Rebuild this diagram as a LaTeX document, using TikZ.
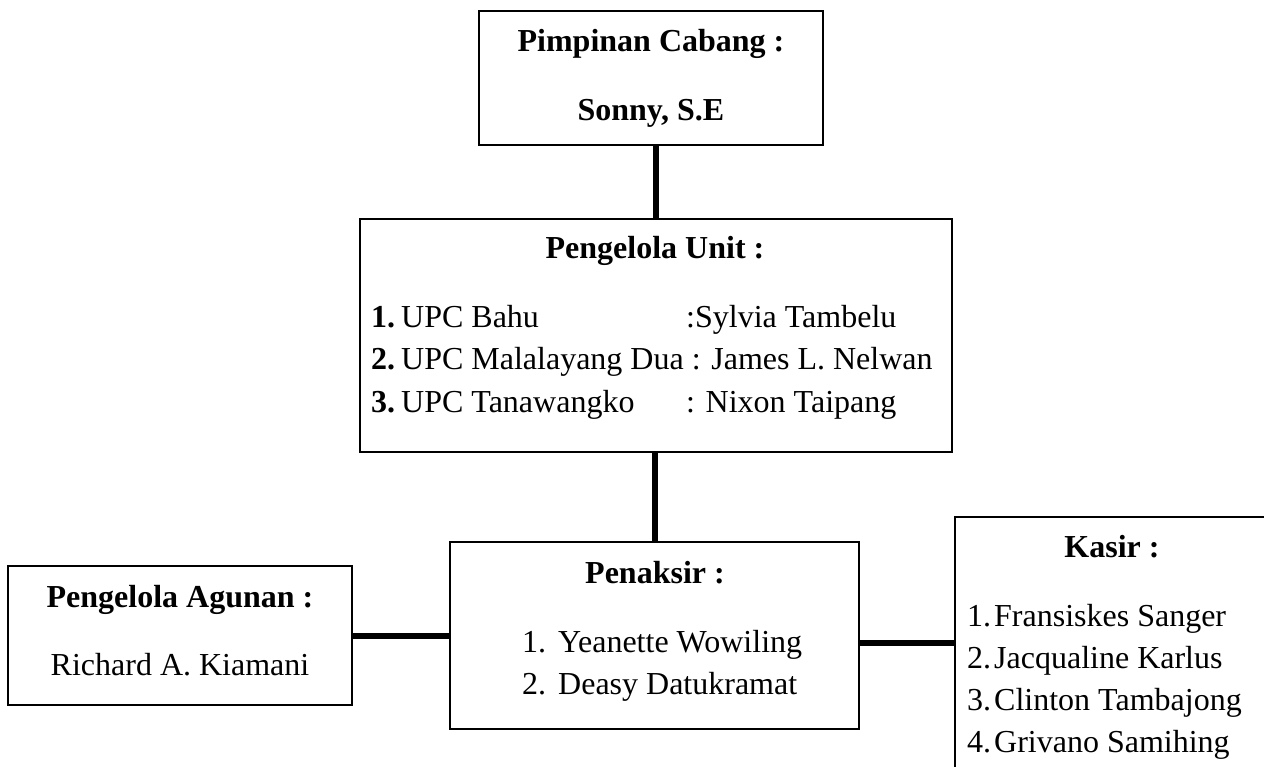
\documentclass[tikz,border=0pt]{standalone}
\usepackage{fontspec}
\setmainfont{Liberation Serif}
\begin{document}
\begin{tikzpicture}[x=1pt,y=-1pt,
  box/.style={draw=black,line width=2pt,rectangle,inner sep=0pt},
  conn/.style={draw=black,line width=6pt},
  txt/.style={inner sep=0pt,anchor=base,font=\fontsize{32pt}{42pt}\selectfont},
  txtl/.style={txt,anchor=base west}]
\fill[white] (0,0) rectangle (1264,767);
\clip (0,0) rectangle (1264,767);
% boxes
\node[box,minimum width=344pt,minimum height=134pt] (pim) at (651,78) {};
\node[box,minimum width=592pt,minimum height=233pt] (unit) at (656,335.5) {};
\node[box,minimum width=409pt,minimum height=187pt] (pen) at (654.5,635.5) {};
\node[box,minimum width=344pt,minimum height=139pt] (agu) at (180,635.5) {};
\node[box,minimum width=314pt,minimum height=252pt] (kas) at (1112,643) {};
% connectors
\draw[conn] (unit.north) -- (unit.north |- pim.south);
\draw[conn] (pen.north |- unit.south) -- (pen.north);
\draw[conn] (agu.east) -- (agu.east -| pen.west);
\draw[conn] (kas.west) -- (kas.west -| pen.east);
% texts
\node[txt] (pimA) at (651,52) {\textbf{Pimpinan Cabang :}};
\node[txt] (pimB) at (651,121) {\textbf{Sonny, S.E}};
\node[txt] (unitA) at (655,259) {\textbf{Pengelola Unit :}};
\node[txtl] (unit1) at (371,328) {\makebox[30pt][l]{\textbf{1.}}\makebox[285pt][l]{UPC Bahu}:Sylvia Tambelu};
\node[txtl] (unit2) at (371,370) {\makebox[30pt][l]{\textbf{2.}}UPC Malalayang Dua : James L. Nelwan};
\node[txtl] (unit3) at (371,412) {\makebox[30pt][l]{\textbf{3.}}\makebox[285pt][l]{UPC Tanawangko}: Nixon Taipang};
\node[txt] (penA) at (655,583) {\textbf{Penaksir :}};
\node[txtl] (pen1) at (522,652) {\makebox[36pt][l]{1.}Yeanette Wowiling};
\node[txtl] (pen2) at (522,694) {\makebox[36pt][l]{2.}Deasy Datukramat};
\node[txt] (aguA) at (180,607) {\textbf{Pengelola Agunan :}};
\node[txt] (aguB) at (180,675) {Richard A. Kiamani};
\node[txt] (kasA) at (1112,557) {\textbf{Kasir :}};
\node[txtl] (kas1) at (967,626) {\makebox[27pt][l]{1.}Fransiskes Sanger};
\node[txtl] (kas2) at (967,668) {\makebox[27pt][l]{2.}Jacqualine Karlus};
\node[txtl] (kas3) at (967,710) {\makebox[27pt][l]{3.}Clinton Tambajong};
\node[txtl] (kas4) at (967,752) {\makebox[27pt][l]{4.}Grivano Samihing};
\end{tikzpicture}
\end{document}
